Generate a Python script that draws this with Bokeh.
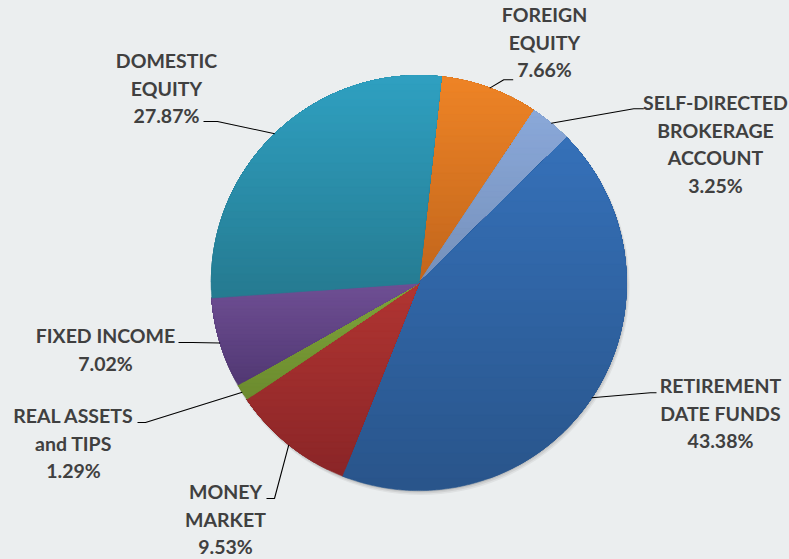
import numpy as np
from bokeh.plotting import figure
from bokeh.models import Range1d
from bokeh.core.properties import value
from bokeh.embed import file_html
from bokeh.resources import INLINE

# ---- data (clockwise from the top) ----
categories = ["FOREIGN EQUITY", "SELF-DIRECTED BROKERAGE ACCOUNT", "RETIREMENT DATE FUNDS",
              "MONEY MARKET", "REAL ASSETS and TIPS", "FIXED INCOME", "DOMESTIC EQUITY"]
percents = [7.66, 3.25, 43.38, 9.53, 1.29, 7.02, 27.87]
label_lines = [["FOREIGN", "EQUITY"], ["SELF-DIRECTED", "BROKERAGE", "ACCOUNT"],
               ["RETIREMENT", "DATE FUNDS"], ["MONEY", "MARKET"],
               ["REAL ASSETS", "and TIPS"], ["FIXED INCOME"], ["DOMESTIC", "EQUITY"]]

# ---- styles ----
top_colors = ["#EE8426", "#8AA8D9", "#3571B9", "#B13532", "#7FA43B", "#6F4F94", "#2FA0C1"]
bottom_colors = ["#C1651C", "#7590BA", "#29548A", "#8A2527", "#6C8B2E", "#513873", "#257A90"]
BG = "#EBEEEF"
TEXT = "#404040"

# ---- layout (page pixel coordinates) ----
W, H = 789, 559
cx, cy, R = 418.3, 282.6, 207.5
start_deg = 6.2
label_cx = [544, 715, 720, 225, 73, 105, 166]
label_mid0 = [14, 102, 385, 491, 415, 335, 60]   # vertical centre of first line
line_gap = 27.6
elbows = [(503.3, 79.3), (633.3, 108.3), (650, 392.3), (274, 498), (145, 422), (192, 342), (217, 121)]
ends = [(512.7, 79.3), (643.3, 108.3), (656, 392.3), (266, 498), (137, 422), (178, 342), (203, 121)]

p = figure(width=W, height=H, output_backend="svg", toolbar_location=None,
           x_range=Range1d(0, W), y_range=Range1d(H, 0), min_border=0)
p.axis.visible = False
p.grid.visible = False
p.outline_line_color = None
p.background_fill_color = BG
p.border_fill_color = BG

# soft shadow
for off, extra, a in [(3.0, 1.5, 0.05), (2.0, 1.0, 0.07), (1.0, 0.5, 0.09)]:
    p.circle(x=[cx + off * 0.6], y=[cy + off], radius=R + extra, fill_color="black",
             fill_alpha=a, line_color=None)


def hex2rgb(h):
    h = h.lstrip("#")
    return np.array([int(h[i:i + 2], 16) for i in (0, 2, 4)], dtype=float)


def mix(c0, c1, t):
    c = hex2rgb(c0) * (1 - t) + hex2rgb(c1) * t
    return "#%02x%02x%02x" % tuple(int(round(v)) for v in c)


def clip_above(poly, yc):
    """Keep the part of a convex polygon with y <= yc (screen-down y)."""
    out = []
    n = len(poly)
    for i in range(n):
        x0, y0 = poly[i]
        x1, y1 = poly[(i + 1) % n]
        in0, in1 = y0 <= yc, y1 <= yc
        if in0:
            out.append((x0, y0))
        if in0 != in1:
            t = (yc - y0) / (y1 - y0)
            out.append((x0 + t * (x1 - x0), yc))
    return out


total = sum(percents)
angle = start_deg
xs_all, ys_all, cols_all = [], [], []
mids = []
N = 28
for i, v in enumerate(percents):
    span = 360.0 * v / total
    a0, a1 = angle, angle + span
    mids.append((a0 + a1) / 2)
    angle = a1
    n_arc = max(3, int(span / 0.5))
    aa = np.radians(np.linspace(a0, a1, n_arc))
    poly = [(cx, cy)] + [(cx + R * np.sin(a), cy - R * np.cos(a)) for a in aa]
    ymin = min(q[1] for q in poly)
    ymax = max(q[1] for q in poly)
    hgt = ymax - ymin
    for k in range(N - 1, -1, -1):
        yc = ymin + (k + 1) * hgt / N + (0.01 if k == N - 1 else 0)
        part = clip_above(poly, yc)
        if len(part) < 3:
            continue
        xs_all.append([q[0] for q in part])
        ys_all.append([q[1] for q in part])
        cols_all.append(mix(top_colors[i], bottom_colors[i], (k + 0.5) / N))

p.patches(xs=xs_all, ys=ys_all, fill_color=cols_all, line_color=cols_all, line_width=0.6)

# leader lines
for i, m in enumerate(mids):
    a = np.radians(m)
    ex, ey = cx + R * np.sin(a), cy - R * np.cos(a)
    bx, by = elbows[i]
    tx, ty = ends[i]
    p.line(x=[ex, bx, tx], y=[ey, by, ty], line_color="black", line_width=1.1)

# labels
tx_, ty_, tt_ = [], [], []
for i, lines in enumerate(label_lines):
    all_lines = lines + ["%.2f%%" % percents[i]]
    for j, s in enumerate(all_lines):
        tx_.append(label_cx[i])
        ty_.append(label_mid0[i] + j * line_gap)
        tt_.append(s)
p.text(x=tx_, y=ty_, text=tt_, text_font=value("Lato"), text_font_style="bold",
       text_font_size="19.5px", text_color=TEXT, text_align="center",
       text_baseline="middle")

html = file_html(p, INLINE)
k = html.rfind("<body")
if k >= 0:
    html = html[:k] + '<body style="background-color:%s;margin:0;"' % BG + html[k + 5:]
open("out.html", "w").write(html)
